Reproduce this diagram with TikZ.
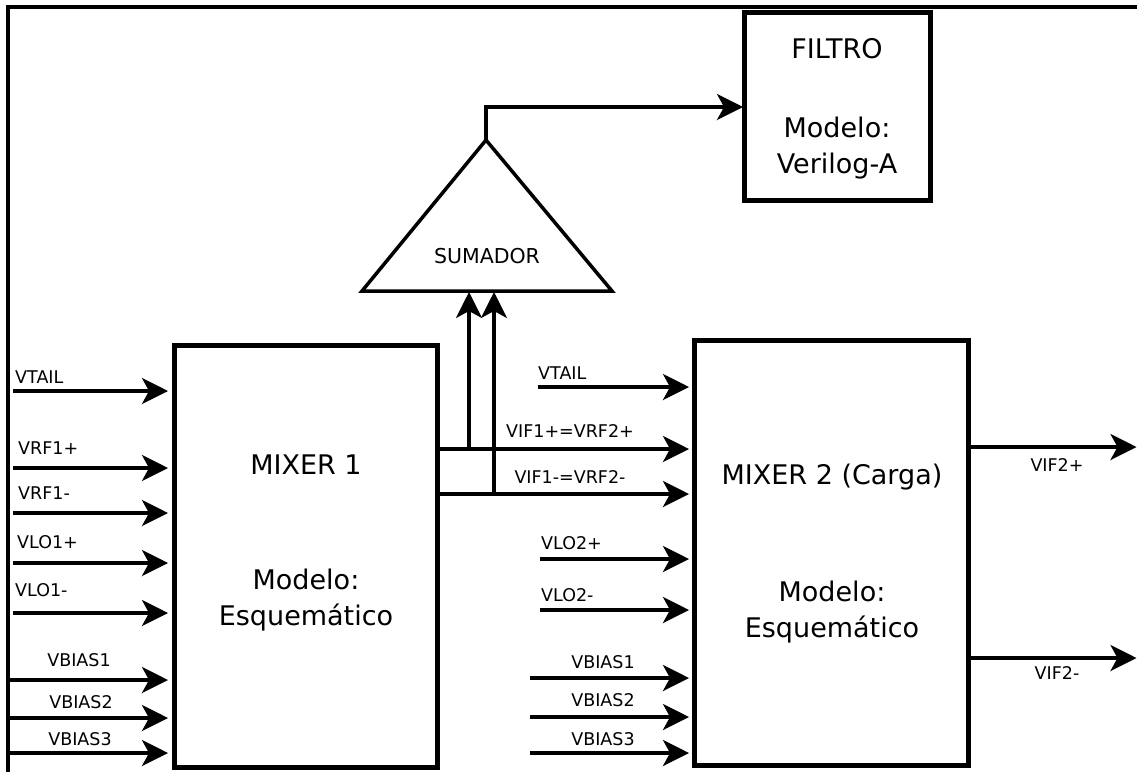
\documentclass[tikz,border=0pt]{standalone}
\usepackage{fontspec}
\setmainfont{DejaVu Sans}
\usetikzlibrary{arrows.meta}
\begin{document}
\begin{tikzpicture}[x=1pt,y=-1pt,
  block/.style={draw, line width=5pt, inner sep=0pt, outer sep=0pt},
  bigtxt/.style={font=\fontsize{27}{36}\selectfont, align=center, inner sep=0pt, text=black},
  lbl/.style={font=\fontsize{17.5}{20}\selectfont, inner sep=0pt, text=black},
  arr/.style={line width=3.5pt, -{Stealth[length=26pt,width=26pt,inset=7pt]}},
  arrup/.style={line width=3.2pt, -{Stealth[length=26pt,width=26pt,inset=7pt]}},
  wire/.style={line width=3.5pt}]
\useasboundingbox (0,0) rectangle (1137,772);
% frame
\coordinate (fbl) at (8,772);
\coordinate (ftl) at (8,7);
\coordinate (ftr) at (1137,7);
\draw[wire] (fbl) -- (ftl) -- (ftr);

% blocks
\node[block, minimum width=263pt, minimum height=422pt] (m1) at (305.5,556) {};
\node[block, minimum width=274pt, minimum height=425pt] (m2) at (831,552.5) {};
\node[block, minimum width=186pt, minimum height=188pt] (filt) at (837,106) {};

% block texts
\node[bigtxt] (m1t) at (306,465) {MIXER 1};
\node[bigtxt] (m1m) at (306,600) {Modelo:\\Esquemático};
\node[bigtxt] (m2t) at (832,477) {MIXER 2 (Carga)};
\node[bigtxt] (m2m) at (832,612) {Modelo:\\Esquemático};
\node[bigtxt] (ft) at (837,49) {FILTRO};
\node[bigtxt] (fm) at (837,148) {Modelo:\\Verilog-A};

% sumador
\coordinate (sumL) at (362,291);
\coordinate (sumR) at (612,291);
\coordinate (sumA) at (486,140);
\draw[wire, line join=miter] (sumL) -- (sumA) -- (sumR) -- cycle;
\node[font=\fontsize{20.5}{24}\selectfont, inner sep=0pt, text=black] (sumt) at (487,256) {SUMADOR};
\draw[arr, shorten >=1pt] (sumA) -- (sumA |- 0,107) -- (filt.west |- 0,107);

% mixer1 inputs
\foreach \n/\y/\t/\lx/\ly/\an/\sx in {
  a/391/VTAIL/15/377/west/13,
  b/468/VRF1+/18/448/west/13,
  c/513/VRF1-/18/493/west/13,
  d/563/VLO1+/17/542/west/13,
  e/613/VLO1-/15/590/west/13,
  f/680/VBIAS1/79/660/center/10,
  g/718/VBIAS2/81/702/center/10,
  h/753/VBIAS3/80/739/center/10}{
  \coordinate (i1\n) at (\sx,\y);
  \draw[arr, shorten >=6pt] (i1\n) -- (i1\n -| m1.west);
  \node[lbl, anchor=\an] (l1\n) at (\lx,\ly) {\t};
}

% mixer2 inputs
\foreach \n/\y/\t/\lx/\ly/\an/\sx in {
  a/387/VTAIL/538/373/west/538,
  d/559/VLO2+/541/543/west/540,
  e/610/VLO2-/541/595/west/540,
  f/678/VBIAS1/603/662/center/530,
  g/717/VBIAS2/603/700/center/530,
  h/753/VBIAS3/603/739/center/530}{
  \coordinate (i2\n) at (\sx,\y);
  \draw[arr, shorten >=5pt] (i2\n) -- (i2\n -| m2.west);
  \node[lbl, anchor=\an] (l2\n) at (\lx,\ly) {\t};
}

% IF connections
\coordinate (j1) at (469,449);
\coordinate (j2) at (494,494);
\draw[arr, shorten >=5pt] (m1.east |- j1) -- (m2.west |- j1);
\draw[arr, shorten >=5pt] (m1.east |- j2) -- (m2.west |- j2);
\draw[arrup, shorten >=1pt] (j1) -- (j1 |- sumL);
\draw[arrup, shorten >=1pt] (j2) -- (j2 |- sumL);
\node[lbl] (lvp) at (570,431) {VIF1+=VRF2+};
\node[lbl] (lvm) at (570,477) {VIF1-=VRF2-};

% outputs
\coordinate (o1) at (1137,447);
\coordinate (o2) at (1137,658);
\draw[arr, shorten >=0.5pt] (m2.east |- o1) -- (o1);
\draw[arr, shorten >=0.5pt] (m2.east |- o2) -- (o2);
\node[lbl] (lo1) at (1057,465) {VIF2+};
\node[lbl] (lo2) at (1057,673) {VIF2-};
\end{tikzpicture}
\end{document}
